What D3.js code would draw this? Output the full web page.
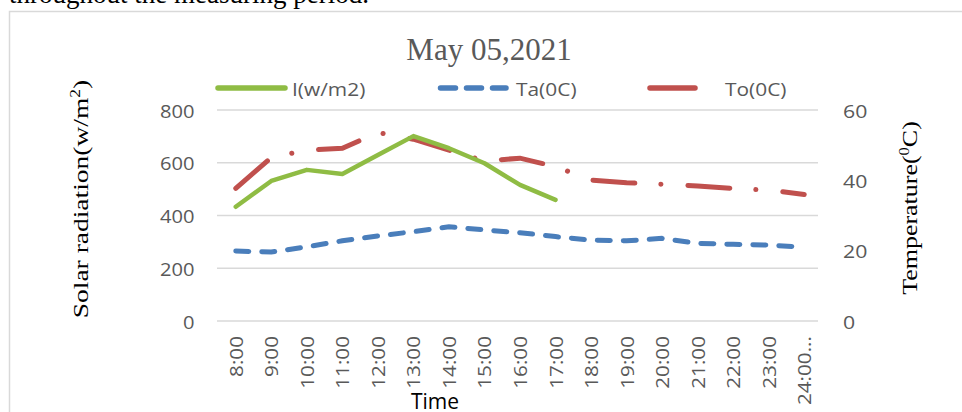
<!DOCTYPE html>
<html><head><meta charset="utf-8">
<script src="https://cdn.jsdelivr.net/npm/d3@7"></script>
<style>body{margin:0;background:#fff;} svg{display:block;}</style>
</head><body>
<script>
const times = ["8:00","9:00","10:00","11:00","12:00","13:00","14:00","15:00","16:00","17:00","18:00","19:00","20:00","21:00","22:00","23:00","24:00..."];
const solar = [433,531,573,557,629,701,655,598,516,459,null,null,null,null,null,null,null];
const ta = [19.9,19.6,21.1,22.8,24.2,25.4,26.8,25.9,25.1,24.0,23.0,22.8,23.5,22.1,21.8,21.6,21.0];
const to = [37.7,46.5,48.6,49.1,53.6,51.7,48.6,45.5,46.3,43.9,40.1,39.3,38.9,38.4,37.7,37.2,36.0];
const leftTicks = [0,200,400,600,800];
const rightTicks = [0,20,40,60];

const W=962,H=412;
const svg=d3.select("body").append("svg").attr("width",W).attr("height",H);
const SANS="Open Sans", SERIF="Liberation Serif";

// caption fragment above
svg.append("text").attr("x",9).attr("y",3).attr("font-family",SERIF).attr("font-size",27).attr("fill","#000").text("throughout the measuring period.");
// chart frame
svg.append("rect").attr("x",9.5).attr("y",11.5).attr("width",W).attr("height",H).attr("fill","none").attr("stroke","#d9d9d9").attr("stroke-width",1.5);

const x=d3.scalePoint().domain(times).range([218,822]).padding(0.5);
const yL=d3.scaleLinear().domain([0,800]).range([321,110]);
const yR=d3.scaleLinear().domain([0,60]).range([321,110]);

// gridlines
svg.append("g").selectAll("line").data(leftTicks).join("line")
  .attr("x1",217).attr("x2",818).attr("y1",d=>yL(d)).attr("y2",d=>yL(d))
  .attr("stroke","#d9d9d9").attr("stroke-width",1.5);

// left axis
const gL=svg.append("g").attr("transform","translate(204,1)")
  .call(d3.axisLeft(yL).tickValues(leftTicks).tickSize(0).tickPadding(9));
gL.select(".domain").remove();
gL.selectAll("text").attr("font-family",SANS).attr("font-size",19).attr("fill","#595959")
  .attr("transform","scale(1.06,1)");

// right axis
const gR=svg.append("g").attr("transform","translate(833,1)")
  .call(d3.axisRight(yR).tickValues(rightTicks).tickSize(0).tickPadding(9));
gR.select(".domain").remove();
gR.selectAll("text").attr("font-family",SANS).attr("font-size",19).attr("fill","#595959")
  .attr("transform","scale(1.12,1)");

// x axis labels
const gX=svg.append("g").attr("transform","translate(0,336)")
  .call(d3.axisBottom(x).tickSize(0).tickPadding(0));
gX.select(".domain").remove();
gX.selectAll("text").attr("font-family",SANS).attr("font-size",18.5).attr("fill","#595959")
  .attr("transform","rotate(-90) scale(1.12,1)").attr("text-anchor","end").attr("dy","0.35em").attr("x",0).attr("y",0);

// lines
const lineL=d3.line().defined(d=>d!=null).x((d,i)=>x(times[i])).y(d=>yL(d));
const lineR=d3.line().x((d,i)=>x(times[i])).y(d=>yR(d));

svg.append("path").datum(ta).attr("d",lineR).attr("fill","none").attr("stroke","#4a7ebb")
  .attr("stroke-width",5).attr("stroke-linecap","round").attr("stroke-dasharray","13,13");
svg.append("path").datum(to).attr("d",lineR).attr("fill","none").attr("stroke","#c0504d")
  .attr("stroke-width",5).attr("stroke-linecap","round").attr("stroke-dasharray","42,26,0.1,27");
svg.append("path").datum(solar).attr("d",lineL).attr("fill","none").attr("stroke","#8fbc44")
  .attr("stroke-width",4.5).attr("stroke-linecap","round").attr("stroke-linejoin","round");

// legend
const leg=svg.append("g");
leg.append("line").attr("x1",218).attr("x2",285).attr("y1",88).attr("y2",88).attr("stroke","#8fbc44").attr("stroke-width",5.5).attr("stroke-linecap","round");
leg.append("text").attr("x",292).attr("y",96).text("I(w/m2)");
leg.append("line").attr("x1",440.5).attr("x2",506).attr("y1",88).attr("y2",88).attr("stroke","#4a7ebb").attr("stroke-width",5.5).attr("stroke-linecap","round").attr("stroke-dasharray","15,11");
leg.append("text").attr("x",516).attr("y",96).text("Ta(0C)");
leg.append("line").attr("x1",650).attr("x2",695).attr("y1",88).attr("y2",88).attr("stroke","#c0504d").attr("stroke-width",5.5).attr("stroke-linecap","round");
leg.append("text").attr("x",725).attr("y",96).text("To(0C)");
leg.selectAll("text").attr("font-family",SANS).attr("font-size",19).attr("fill","#595959")
  .attr("transform",function(){const x0=+this.getAttribute("x");return `translate(${x0},0) scale(1.1,1) translate(${-x0},0)`;});

// title
svg.append("text").attr("x",489).attr("y",60).attr("text-anchor","middle").attr("font-family",SERIF).attr("font-size",31).attr("fill","#595959").text("May 05,2021");

// axis titles
const lt=svg.append("text").attr("transform","translate(88,199) rotate(-90) scale(1.25,1)").attr("text-anchor","middle")
  .attr("font-family",SERIF).attr("font-size",22).attr("fill","#000");
lt.append("tspan").text("Solar radiation(w/m");
lt.append("tspan").attr("dy",-8).attr("font-size",14).text("2");
lt.append("tspan").attr("dy",8).text(")");

const rt=svg.append("text").attr("transform","translate(917,208) rotate(-90) scale(1.18,1)").attr("text-anchor","middle")
  .attr("font-family",SERIF).attr("font-size",22).attr("fill","#000");
rt.append("tspan").text("Temperature(");
rt.append("tspan").attr("dy",-8).attr("font-size",14).text("0");
rt.append("tspan").attr("dy",8).text("C)");

svg.append("text").attr("x",435).attr("y",409).attr("text-anchor","middle").attr("font-family",SANS).attr("font-size",21).attr("fill","#000").text("Time");
</script>
</body></html>
